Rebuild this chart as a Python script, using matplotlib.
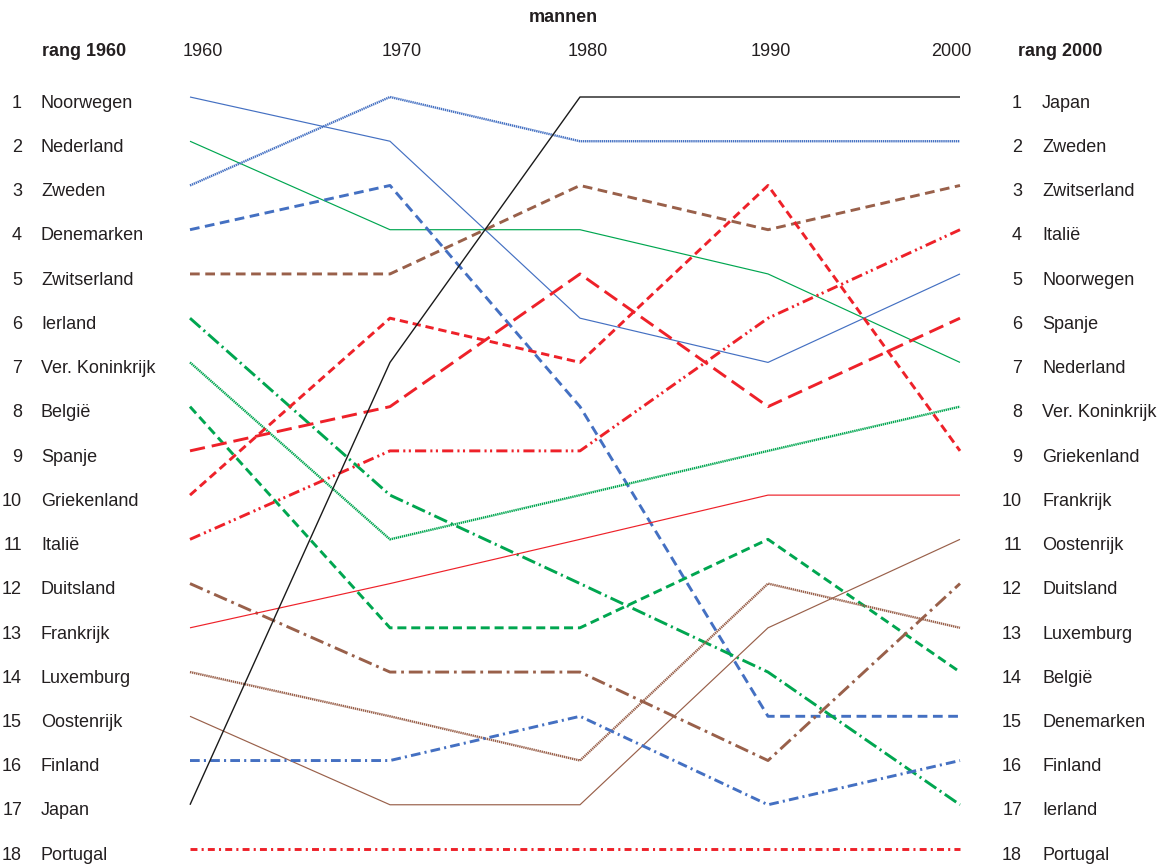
import matplotlib
matplotlib.use("Agg")
import matplotlib.pyplot as plt
import numpy as np

plt.rcParams['font.family'] = ['Liberation Sans', 'DejaVu Sans']
plt.rcParams['lines.scale_dashes'] = False

title = "mannen"
years = [1960, 1970, 1980, 1990, 2000]
left_header = "rang 1960"
right_header = "rang 2000"

countries = ["Noorwegen", "Nederland", "Zweden", "Denemarken", "Zwitserland",
             "Ierland", "Ver. Koninkrijk", "België", "Spanje", "Griekenland",
             "Italië", "Duitsland", "Frankrijk", "Luxemburg", "Oostenrijk",
             "Finland", "Japan", "Portugal"]

rank_noorwegen = [1, 2, 6, 7, 5]
rank_nederland = [2, 4, 4, 5, 7]
rank_zweden = [3, 1, 2, 2, 2]
rank_denemarken = [4, 3, 8, 15, 15]
rank_zwitserland = [5, 5, 3, 4, 3]
rank_ierland = [6, 10, 12, 14, 17]
rank_vk = [7, 11, 10, 9, 8]
rank_belgie = [8, 13, 13, 11, 14]
rank_spanje = [9, 8, 5, 8, 6]
rank_griekenland = [10, 6, 7, 3, 9]
rank_italie = [11, 9, 9, 6, 4]
rank_duitsland = [12, 14, 14, 16, 12]
rank_frankrijk = [13, 12, 11, 10, 10]
rank_luxemburg = [14, 15, 16, 12, 13]
rank_oostenrijk = [15, 17, 17, 13, 11]
rank_finland = [16, 16, 15, 17, 16]
rank_japan = [17, 7, 1, 1, 1]
rank_portugal = [18, 18, 18, 18, 18]

ranks = [rank_noorwegen, rank_nederland, rank_zweden, rank_denemarken,
         rank_zwitserland, rank_ierland, rank_vk, rank_belgie, rank_spanje,
         rank_griekenland, rank_italie, rank_duitsland, rank_frankrijk,
         rank_luxemburg, rank_oostenrijk, rank_finland, rank_japan,
         rank_portugal]

BLUE = "#4470C2"
GREEN = "#00A650"
RED = "#EE2129"
BROWN = "#99604A"
BLACK = "#1a1a1a"

# (color, linewidth, linestyle) per country
styles = {
    "Noorwegen": (BLUE, 0.85, "-"),
    "Nederland": (GREEN, 0.85, "-"),
    "Zweden": (BLUE, 1.7, (0, (1.0, 0.5))),
    "Denemarken": (BLUE, 2.1, (0, (7, 4))),
    "Zwitserland": (BROWN, 2.1, (0, (7, 4))),
    "Ierland": (GREEN, 2.1, (0, (10, 3, 1.5, 3))),
    "Ver. Koninkrijk": (GREEN, 1.7, (0, (1.0, 0.5))),
    "België": (GREEN, 2.1, (0, (6.5, 3.5))),
    "Spanje": (RED, 2.1, (0, (11, 5))),
    "Griekenland": (RED, 2.1, (0, (6, 3.5))),
    "Italië": (RED, 2.1, (0, (8, 3, 1.5, 2.5, 1.5, 3))),
    "Duitsland": (BROWN, 2.1, (0, (10, 3.5, 2, 3.5))),
    "Frankrijk": (RED, 0.85, "-"),
    "Luxemburg": (BROWN, 1.7, (0, (1.0, 0.5))),
    "Oostenrijk": (BROWN, 0.85, "-"),
    "Finland": (BLUE, 2.1, (0, (7, 3, 1.5, 3))),
    "Japan": (BLACK, 1.0, "-"),
    "Portugal": (RED, 2.1, (0, (5, 3, 1.5, 3))),
}

W, H = 1168, 866
fig = plt.figure(figsize=(W / 100, H / 100), dpi=100)
x0, x1 = 190, 960
y_top, y_bot = 97, 849
ax = fig.add_axes([x0 / W, (H - y_bot) / H, (x1 - x0) / W, (y_bot - y_top) / H])

# slightly uneven column spacing as in the original layout
col_px = np.array([190.0, 390.0, 580.0, 768.0, 960.0])
yr_arr = np.array(years, dtype=float)

def fwd(v):
    v = np.asarray(v, dtype=float)
    return (np.interp(v, yr_arr, col_px)
            + np.where(v < yr_arr[0], (v - yr_arr[0]) * 20.0, 0)
            + np.where(v > yr_arr[-1], (v - yr_arr[-1]) * 19.2, 0))

def inv(p):
    p = np.asarray(p, dtype=float)
    return (np.interp(p, col_px, yr_arr)
            + np.where(p < col_px[0], (p - col_px[0]) / 20.0, 0)
            + np.where(p > col_px[-1], (p - col_px[-1]) / 19.2, 0))

ax.set_xscale("function", functions=(fwd, inv))
ax.set_xlim(1960, 2000)
ax.set_ylim(18, 1)
ax.axis("off")

for name, r in zip(countries, ranks):
    c, lw, ls = styles[name]
    ax.plot(years, r, color=c, lw=lw, linestyle=ls, solid_capstyle="butt",
            dash_capstyle="butt", clip_on=False)

fs = 13
tc = "#231F20"
label_off = 0.14
order1960 = sorted(range(len(countries)), key=lambda i: ranks[i][0])
order2000 = sorted(range(len(countries)), key=lambda i: ranks[i][-1])

def px2fx(px):
    return px / W

def rank2fy(rk):
    py = y_top + (rk - 1) * (y_bot - y_top) / 17
    return (H - py) / H

for i in order1960:
    rk = ranks[i][0]
    fig.text(px2fx(22), rank2fy(rk + label_off), str(rk), ha="right", va="center",
             fontsize=fs, color=tc)
    fig.text(px2fx(41), rank2fy(rk + label_off), countries[i], ha="left", va="center",
             fontsize=fs, color=tc)
for i in order2000:
    rk = ranks[i][-1]
    fig.text(px2fx(1022), rank2fy(rk + label_off), str(rk), ha="right", va="center",
             fontsize=fs, color=tc)
    fig.text(px2fx(1042), rank2fy(rk + label_off), countries[i], ha="left", va="center",
             fontsize=fs, color=tc)

def py2fig(py):
    return (H - py) / H

fig.text(84 / W, py2fig(52), left_header, ha="center", va="center",
         fontsize=fs, fontweight="bold", color=tc)
fig.text(1060 / W, py2fig(52), right_header, ha="center", va="center",
         fontsize=fs, fontweight="bold", color=tc)
fig.text(563 / W, py2fig(17), title, ha="center", va="center",
         fontsize=fs, fontweight="bold", color=tc)
year_px = [203, 402, 588, 771, 951]
for yr, xp in zip(years, year_px):
    fig.text(xp / W, py2fig(52), str(yr), ha="center", va="center",
             fontsize=fs, color=tc)

fig.savefig("out.png", dpi=100)
